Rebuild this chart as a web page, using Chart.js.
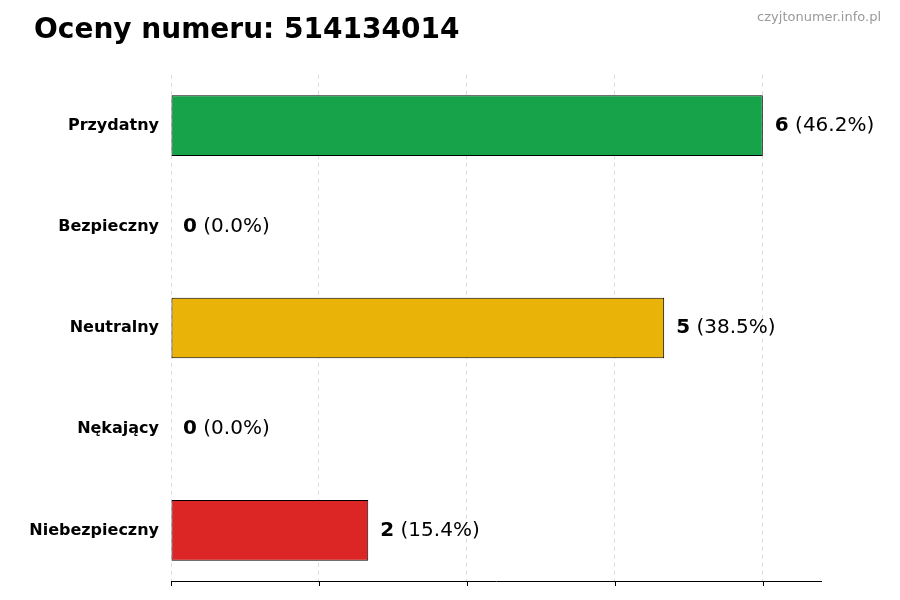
<!DOCTYPE html>
<html><head><meta charset="utf-8">
<script src="https://cdn.jsdelivr.net/npm/chart.js@4"></script>
<style>html,body{margin:0;padding:0;background:#fff}#wrap{position:relative;width:900px;height:600px}</style>
</head><body><div id="wrap"><canvas id="c" width="900" height="600"></canvas></div>
<script>
const categories = ['Przydatny', 'Bezpieczny', 'Neutralny', 'Nękający', 'Niebezpieczny'];
const counts = [6, 0, 5, 0, 2];
const percents = ['46.2%', '0.0%', '38.5%', '0.0%', '15.4%'];
const colors = ['#16a34a', '#16a34a', '#eab308', '#dc2626', '#dc2626'];

const overlay = {
  id: 'overlay',
  afterDraw(chart) {
    const ctx = chart.ctx, x = chart.scales.x, y = chart.scales.y, a = chart.chartArea;
    ctx.save();
    ctx.fillStyle = '#000';
    ctx.font = 'bold 28px "DejaVu Sans"';
    ctx.textBaseline = 'middle';
    ctx.fillText('Oceny numeru: 514134014', 34, 31);
    ctx.fillStyle = '#999';
    ctx.font = '13px "DejaVu Sans"';
    ctx.textAlign = 'right';
    ctx.fillText('czyjtonumer.info.pl', 881, 18);
    ctx.textAlign = 'left';
    // bottom axis line
    ctx.strokeStyle = '#000'; ctx.lineWidth = 1;
    ctx.beginPath(); ctx.moveTo(a.left, a.bottom + 0.5); ctx.lineTo(a.right, a.bottom + 0.5); ctx.stroke();
    [0, 1.5, 3, 4.5, 6].forEach(v => {
      const px = Math.round(x.getPixelForValue(v)) + 0.5;
      ctx.beginPath(); ctx.moveTo(px, a.bottom); ctx.lineTo(px, a.bottom + 5); ctx.stroke();
    });
    counts.forEach((v, i) => {
      const px = x.getPixelForValue(v) + 12, py = y.getPixelForValue(i);
      ctx.font = 'bold 20px "DejaVu Sans"';
      ctx.fillStyle = '#000';
      const s = String(v);
      ctx.fillText(s, px, py);
      const w = ctx.measureText(s).width;
      ctx.font = '20px "DejaVu Sans"';
      ctx.fillText(' (' + percents[i] + ')', px + w, py);
    });
    ctx.restore();
  }
};

new Chart(document.getElementById('c'), {
  type: 'bar',
  data: { labels: categories, datasets: [{ data: counts, backgroundColor: colors, borderColor: '#000', borderWidth: 1, borderSkipped: false, barPercentage: 0.6, categoryPercentage: 1 }] },
  options: {
    indexAxis: 'y', responsive: false, animation: false,
    layout: { padding: { top: 75, right: 78, bottom: 19, left: 0 } },
    plugins: { legend: { display: false }, tooltip: { enabled: false } },
    scales: {
      x: { min: 0, max: 6.6, afterBuildTicks: s => { s.ticks = [0, 1.5, 3, 4.5, 6].map(v => ({ value: v })); },
        ticks: { display: false },
        grid: { color: '#ddd', lineWidth: 1, drawTicks: false, tickBorderDash: [4, 4] },
        border: { display: false, dash: [4, 4] } },
      y: { afterFit: s => { s.width = 171; },
        ticks: { color: '#000', font: { family: 'DejaVu Sans', size: 16, weight: 'bold' }, padding: 4 },
        grid: { display: false, drawTicks: true },
        border: { display: false } }
    }
  },
  plugins: [overlay]
});
</script></body></html>
